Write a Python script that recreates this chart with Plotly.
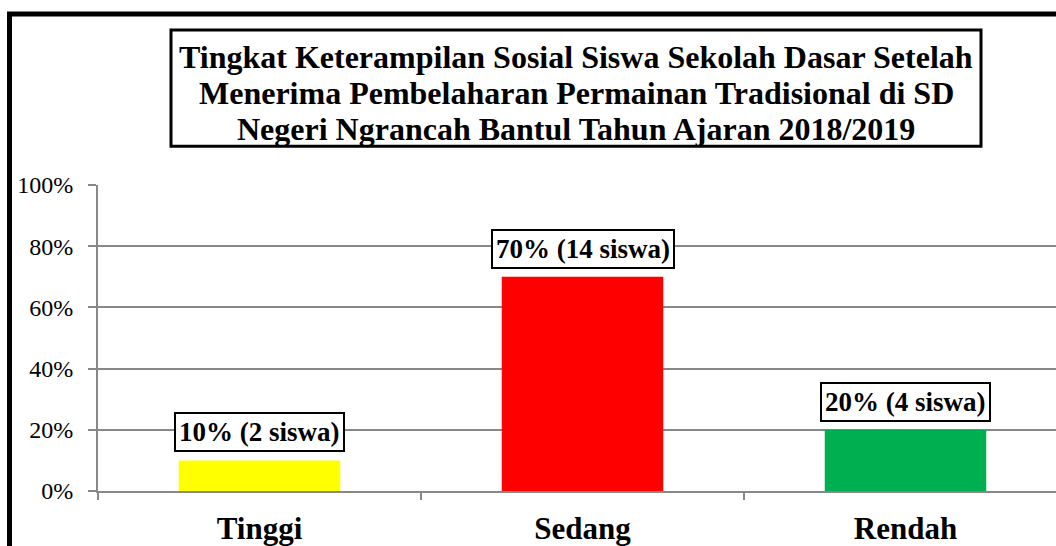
import plotly.graph_objects as go

categories = ["Tinggi", "Sedang", "Rendah"]
percent = [10, 70, 20]
students = [2, 14, 4]
colors = ["#FFFF00", "#FF0000", "#00B050"]
y_ticks = [0, 20, 40, 60, 80, 100]
title_lines = [
    "Tingkat Keterampilan Sosial Siswa Sekolah Dasar Setelah",
    "Menerima Pembelaharan Permainan Tradisional di SD",
    "Negeri Ngrancah Bantul Tahun Ajaran 2018/2019",
]

# page body margin is removed (post_script), so figure pixels == page pixels
W, H = 1056, 546
L, T = 98, 185
R = 0
B = H - 493
pw, ph = W - L - R, H - T - B

def px_x(p):
    return (p - L) / pw

def px_y(p):
    return (H - B - p) / ph

SERIF = "Liberation Serif, Times New Roman, serif"

fig = go.Figure()
fig.add_trace(go.Bar(
    x=categories, y=percent, width=0.5,
    marker=dict(color=colors, line=dict(width=0)),
    showlegend=False, hoverinfo="skip",
))

for c, p, s in zip(categories, percent, students):
    fig.add_annotation(
        x=c, y=p, xref="x", yref="y", yanchor="bottom", yshift=8,
        text=f"<b>{p}% ({s} siswa)</b>", showarrow=False,
        font=dict(family=SERIF, size=27, color="black"),
        bordercolor="black", borderwidth=2, borderpad=3, bgcolor="white",
    )

# title box
fig.add_shape(type="rect", xref="paper", yref="paper",
              x0=px_x(171), x1=px_x(981), y0=px_y(29), y1=px_y(146),
              line=dict(color="black", width=3), fillcolor="white", layer="above")
for i, line in enumerate(title_lines):
    fig.add_annotation(
        x=px_x(576), y=px_y(56 + i * 36.5), xref="paper", yref="paper",
        xanchor="center", yanchor="middle",
        text=f"<b>{line}</b>", showarrow=False,
        font=dict(family=SERIF, size=32, color="black"),
    )

# outer chart frame (left and top edges visible)
fig.add_shape(type="line", xref="paper", yref="paper",
              x0=px_x(9.5), x1=px_x(9.5), y0=px_y(11), y1=px_y(570),
              line=dict(color="black", width=5))
fig.add_shape(type="line", xref="paper", yref="paper",
              x0=px_x(7), x1=px_x(1080), y0=px_y(13), y1=px_y(13),
              line=dict(color="black", width=5))

fig.update_layout(
    width=W, height=H,
    margin=dict(l=L, r=R, t=T, b=B, pad=0),
    paper_bgcolor="white", plot_bgcolor="white",
    xaxis=dict(
        type="category", range=[-0.5, -0.5 + pw / 323.0],
        showline=True, linecolor="#888888", linewidth=2,
        ticks="outside", ticklen=7, tickcolor="#888888", tickwidth=2,
        tickson="boundaries", showgrid=False,
        tickfont=dict(family=SERIF, size=31, color="black", weight="bold"),
        ticklabelstandoff=9,
    ),
    yaxis=dict(
        range=[0, 100], tickvals=y_ticks,
        ticktext=[f"{v}%" for v in y_ticks],
        showline=True, linecolor="#888888", linewidth=2,
        ticks="outside", ticklen=8, tickcolor="#888888", tickwidth=2,
        showgrid=True, gridcolor="#888888", gridwidth=2,
        zeroline=False,
        tickfont=dict(family=SERIF, size=24, color="black"),
        ticklabelstandoff=10,
    ),
)

fig.write_html(
    "out.html",
    config={"displayModeBar": False},
    post_script=(
        "document.body.style.margin='0';"
        "document.body.style.overflow='hidden';"
        "document.documentElement.style.overflow='hidden';"
    ),
)
